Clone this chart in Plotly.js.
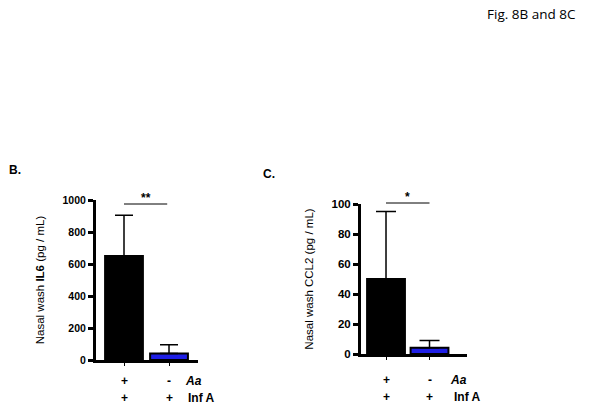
<!DOCTYPE html>
<html>
<head>
<meta charset="utf-8">
<script src="https://cdn.plot.ly/plotly-3.0.1.min.js"></script>
<style>html,body{margin:0;padding:0;background:#fff;}#chart{width:604px;height:414px;}</style>
</head>
<body>
<div id="chart"></div>
<script>
// ---- data ----
const groups = ['Aa+ / Inf A+', 'Aa- / Inf A+'];
const aaRow = ['+', '-'];
const infRow = ['+', '+'];
const il6Values = [650, 40];
const il6Errors = [255, 55];
const ccl2Values = [50, 4.2];
const ccl2Errors = [45, 4.8];
const barColors = ['#000000', '#1f1fe6'];
const il6Ticks = [0, 200, 400, 600, 800, 1000];
const ccl2Ticks = [0, 20, 40, 60, 80, 100];
const il6Sig = {label: '**', x0: 0, x1: 0.96};
const ccl2Sig = {label: '*', x0: 0, x1: 1.0};

// ---- layout helpers (pixel -> paper) ----
const W = 604, H = 414;
const px = v => v / W;
const py = v => (H - v) / H;

const fontB = 'Liberation Sans, Arial, sans-serif';

const traces = [
  {
    type: 'bar', x: groups, y: il6Values, xaxis: 'x', yaxis: 'y',
    width: 0.84,
    marker: {color: barColors, line: {color: '#000', width: 2}},
    error_y: {type: 'data', symmetric: false, array: il6Errors, arrayminus: [0, 0],
              color: '#000', thickness: 1.5, width: 9},
    hoverinfo: 'skip', showlegend: false
  },
  {
    type: 'bar', x: groups, y: ccl2Values, xaxis: 'x2', yaxis: 'y2',
    width: 0.87,
    marker: {color: barColors, line: {color: '#000', width: 2}},
    error_y: {type: 'data', symmetric: false, array: ccl2Errors, arrayminus: [0, 0],
              color: '#000', thickness: 1.5, width: 10},
    hoverinfo: 'skip', showlegend: false
  }
];

const yaxisCommon = {
  showgrid: false, zeroline: false, showline: true, linecolor: '#000', linewidth: 3,
  ticks: 'outside', ticklen: 5, tickwidth: 3, tickcolor: '#000',
  automargin: false, fixedrange: true
};
const xaxisCommon = {
  type: 'category', showgrid: false, zeroline: false, showline: true, linecolor: '#000', linewidth: 3,
  ticks: 'outside', ticklen: 3, tickwidth: 1, tickcolor: '#000',
  showticklabels: false, automargin: false, fixedrange: true
};

const annotations = [];
function rowLabels(xa, ya, rows, suffixes, sufX) {
  rows.forEach((row, r) => {
    row.forEach((t, i) => {
      annotations.push({xref: xa, yref: 'paper', x: groups[i], y: ya[r], text: t,
        showarrow: false, font: {family: fontB, size: 12, color: '#000', weight: 'bold'},
        xanchor: 'center', yanchor: 'middle'});
    });
    annotations.push({xref: 'paper', yref: 'paper', x: sufX[r], y: ya[r], text: suffixes[r],
      showarrow: false, font: {family: fontB, size: 12, color: '#000', weight: 'bold'},
      xanchor: 'left', yanchor: 'middle'});
  });
}
rowLabels('x', [py(381), py(398)], [aaRow, infRow], ['<i>Aa</i>', 'Inf A'], [px(183), px(186)]);
rowLabels('x2', [py(380), py(397)], [aaRow, infRow], ['<i>Aa</i>', 'Inf A'], [px(448), px(452)]);

const il6SigY = py(204), ccl2SigY = py(203);
annotations.push({xref: 'x', yref: 'paper', x: (il6Sig.x0 + il6Sig.x1) / 2, y: il6SigY, text: il6Sig.label,
  showarrow: false, yanchor: 'bottom', yshift: -3, font: {family: fontB, size: 12, color: '#000', weight: 'bold'}});
annotations.push({xref: 'x2', yref: 'paper', x: (ccl2Sig.x0 + ccl2Sig.x1) / 2, y: ccl2SigY, text: ccl2Sig.label,
  showarrow: false, yanchor: 'bottom', yshift: -3, font: {family: fontB, size: 12, color: '#000', weight: 'bold'}});

annotations.push({xref: 'paper', yref: 'paper', x: px(531), y: py(14), text: 'Fig. 8B and 8C',
  showarrow: false, xanchor: 'center', yanchor: 'middle', font: {family: 'Open Sans, sans-serif', size: 13.5, color: '#000'}});
annotations.push({xref: 'paper', yref: 'paper', x: px(7), y: py(170), text: '<b>B.</b>',
  showarrow: false, xanchor: 'left', yanchor: 'middle', font: {family: fontB, size: 12, color: '#000'}});
annotations.push({xref: 'paper', yref: 'paper', x: px(261), y: py(174), text: '<b>C.</b>',
  showarrow: false, xanchor: 'left', yanchor: 'middle', font: {family: fontB, size: 12, color: '#000'}});

const layout = {
  width: W, height: H,
  margin: {l: 0, r: 0, t: 0, b: 0},
  paper_bgcolor: '#fff', plot_bgcolor: 'rgba(0,0,0,0)',
  showlegend: false,
  bargap: 0,
  xaxis: Object.assign({}, xaxisCommon, {domain: [px(96), px(198)], range: [-0.622, 1.644], anchor: 'y'}),
  yaxis: Object.assign({}, yaxisCommon, {domain: [py(360), py(200)], range: [0, 1000], anchor: 'x',
    tickvals: il6Ticks, ticktext: il6Ticks.map(String),
    tickfont: {family: fontB, size: 10.5, color: '#000', weight: 'bold'},
    title: {text: 'Nasal wash <b>IL6</b> (pg / mL)', standoff: 16,
            font: {family: fontB, size: 11.5, color: '#000'}}}),
  xaxis2: Object.assign({}, xaxisCommon, {domain: [px(361), px(467)], range: [-0.575, 1.862], anchor: 'y2'}),
  yaxis2: Object.assign({}, yaxisCommon, {domain: [py(354), py(204)], range: [0, 100], anchor: 'x2',
    tickvals: ccl2Ticks, ticktext: ccl2Ticks.map(String),
    tickfont: {family: fontB, size: 11.5, color: '#000', weight: 'bold'},
    title: {text: 'Nasal wash CCL2 (pg / mL)', standoff: 16,
            font: {family: fontB, size: 11.5, color: '#000'}}}),
  shapes: [
    {type: 'line', xref: 'x', yref: 'paper', x0: il6Sig.x0, x1: il6Sig.x1, y0: il6SigY, y1: il6SigY,
     line: {color: '#000', width: 1}},
    {type: 'line', xref: 'x2', yref: 'paper', x0: ccl2Sig.x0, x1: ccl2Sig.x1, y0: ccl2SigY, y1: ccl2SigY,
     line: {color: '#000', width: 1}}
  ],
  annotations: annotations
};

Plotly.newPlot('chart', traces, layout, {staticPlot: true, displayModeBar: false});
</script>
</body>
</html>
